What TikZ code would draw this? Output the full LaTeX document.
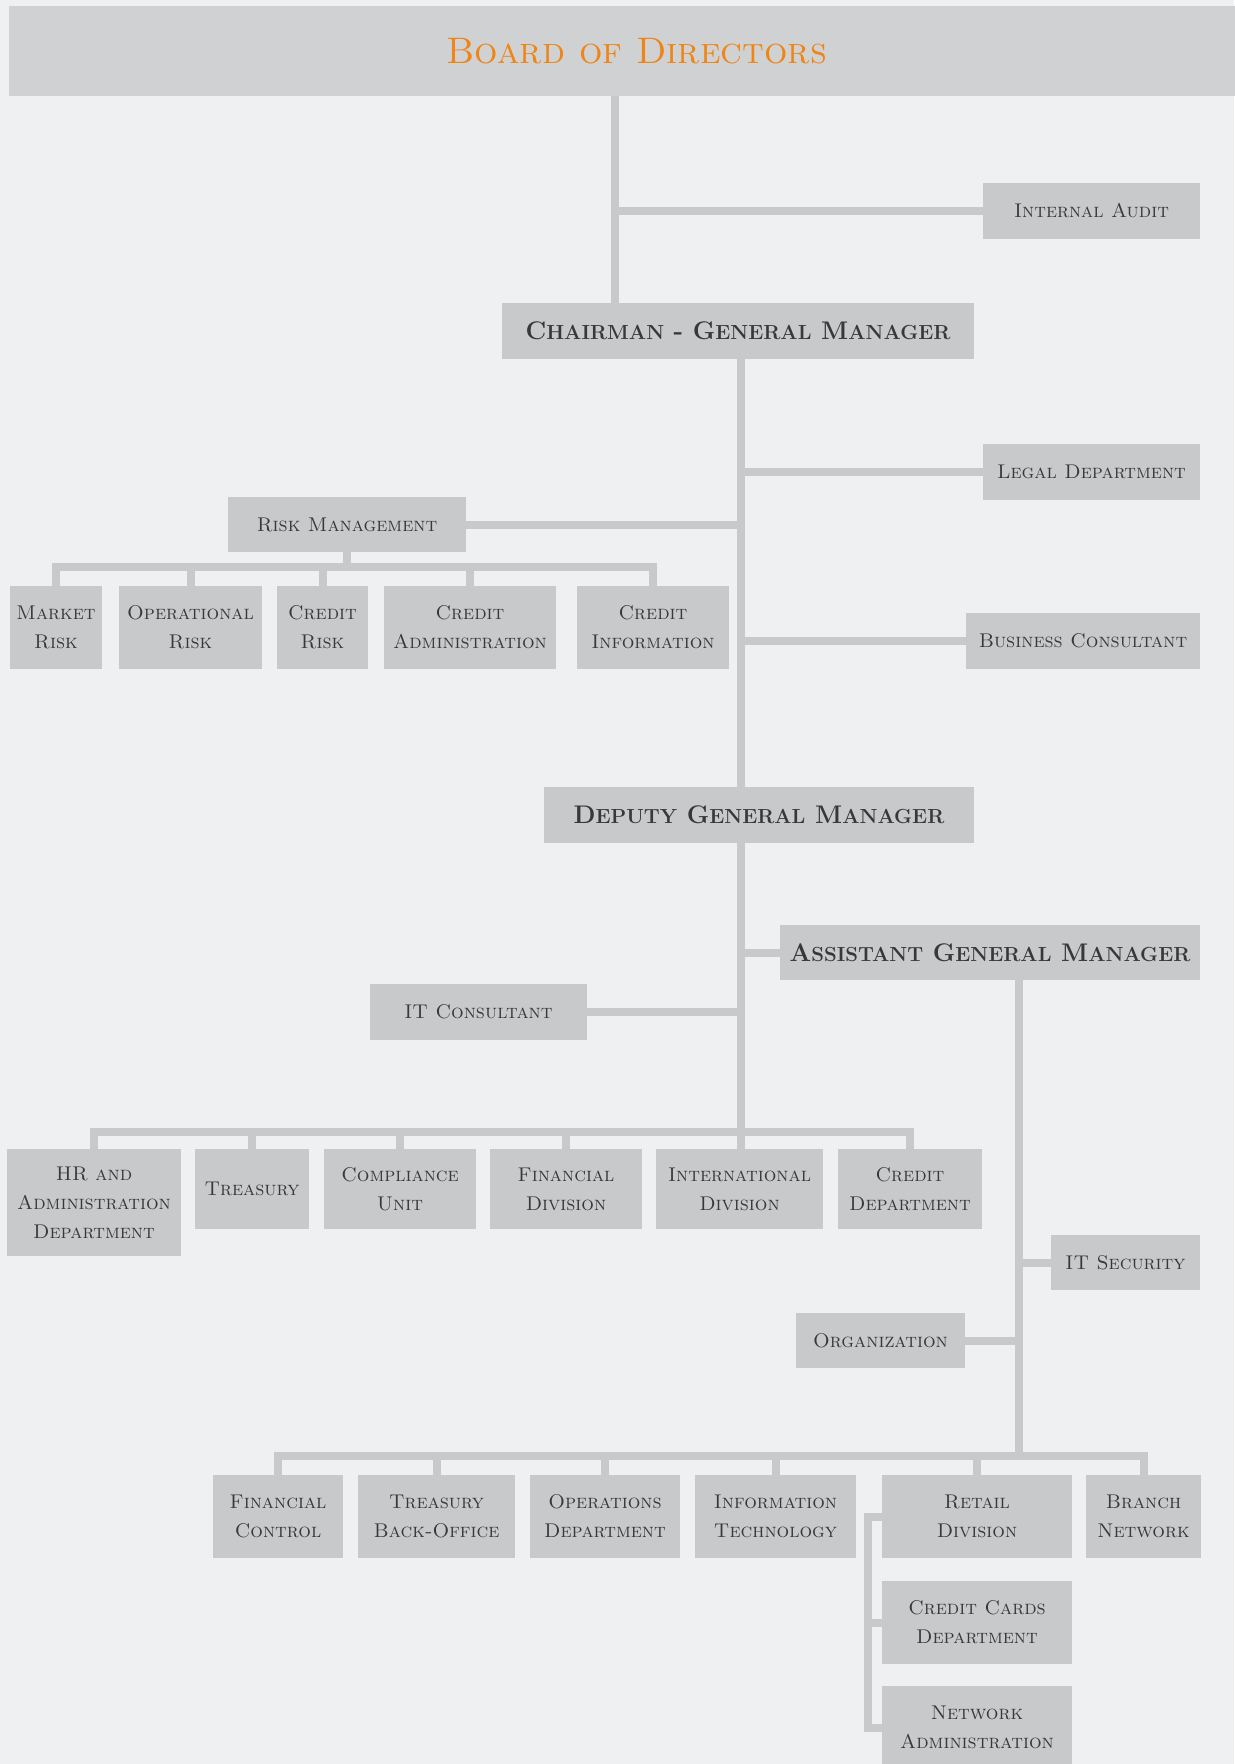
\documentclass[tikz,border=0pt]{standalone}
\usepackage{graphicx}
\usepackage{xcolor}
\usetikzlibrary{positioning}
\definecolor{bggray}{HTML}{EFF0F2}
\definecolor{boxgray}{HTML}{C8C9CB}
\definecolor{topgray}{HTML}{D0D1D3}
\definecolor{txtgray}{HTML}{38383A}
\definecolor{headgray}{HTML}{38383A}
\definecolor{boardorange}{HTML}{EE8516}
\newcommand{\bsc}[2]{#1\scalebox{0.8}{#2}}
\tikzset{dims/.style 2 args={minimum width=#1*0.02cm, minimum height=#2*0.02cm}}
\tikzstyle{dept} = [fill=boxgray, text=txtgray, inner sep=0pt, align=center, font=\fontsize{11.3}{16.5}\selectfont\scshape]
\tikzstyle{head} = [dept, text=headgray, font=\fontsize{14.5}{17}\selectfont\bfseries]
\tikzstyle{link} = [draw=boxgray, line width=0.16cm]

\begin{document}
\begin{tikzpicture}[x=0.02cm, y=-0.02cm]
    \fill[bggray] (0,0) rectangle (1234,1764);
    \useasboundingbox (0,0) rectangle (1234,1764);
    \node[dept, fill=topgray, dims={1255}{90}, text=boardorange, font=\fontsize{21}{25}\selectfont\scshape] (board) at (636.5,51) {Board of Directors};
    \node[dept, dims={217}{56}] (audit) at (1091.5,211) {Internal Audit};
    \node[head, dims={472}{56}] (chair) at (738,331) {\bsc{C}{HAIRMAN} - \bsc{G}{ENERAL} \bsc{M}{ANAGER}};
    \node[dept, dims={217}{56}] (legal) at (1091.5,472) {Legal Department};
    \node[dept, dims={238}{55}] (risk) at (347,524.5) {Risk Management};
    \node[dept, dims={92}{83}] (market) at (56,627.5) {Market\\Risk};
    \node[dept, dims={143}{83}] (oprisk) at (190.5,627.5) {Operational\\Risk};
    \node[dept, dims={91}{83}] (crrisk) at (322.5,627.5) {Credit\\Risk};
    \node[dept, dims={172}{83}] (cradmin) at (470,627.5) {Credit\\Administration};
    \node[dept, dims={152}{83}] (crinfo) at (653,627.5) {Credit\\Information};
    \node[dept, dims={234}{56}] (busc) at (1083,641) {Business Consultant};
    \node[head, dims={430}{56}] (deputy) at (759,815) {\bsc{D}{EPUTY} \bsc{G}{ENERAL} \bsc{M}{ANAGER}};
    \node[head, dims={420}{55}] (agm) at (990,952.5) {\bsc{A}{SSISTANT} \bsc{G}{ENERAL} \bsc{M}{ANAGER}};
    \node[dept, dims={217}{56}] (itcons) at (478.5,1012) {IT Consultant};
    \node[dept, dims={174}{107}] (hr) at (94,1202.5) {HR and\\Administration\\Department};
    \node[dept, dims={114}{80}] (treasury) at (252,1189) {Treasury};
    \node[dept, dims={152}{80}] (compliance) at (400,1189) {Compliance\\Unit};
    \node[dept, dims={152}{80}] (findiv) at (566,1189) {Financial\\Division};
    \node[dept, dims={167}{80}] (intl) at (739.5,1189) {International\\Division};
    \node[dept, dims={144}{80}] (creddept) at (910,1189) {Credit\\Department};
    \node[dept, dims={149}{55}] (itsec) at (1125.5,1262.5) {IT Security};
    \node[dept, dims={169}{55}] (org) at (880.5,1340.5) {Organization};
    \node[dept, dims={130}{83}] (finctrl) at (278,1516.5) {Financial\\Control};
    \node[dept, dims={157}{83}] (tbo) at (436.5,1516.5) {Treasury\\Back-Office};
    \node[dept, dims={150}{83}] (ops) at (605,1516.5) {Operations\\Department};
    \node[dept, dims={161}{83}] (infotech) at (775.5,1516.5) {Information\\Technology};
    \node[dept, dims={190}{83}] (retail) at (977,1516.5) {Retail\\Division};
    \node[dept, dims={115}{83}] (branch) at (1143.5,1516.5) {Branch\\Network};
    \node[dept, dims={190}{83}] (ccards) at (977,1622.5) {Credit Cards\\Department};
    \node[dept, dims={190}{83}] (netadmin) at (977,1727.5) {Network\\Administration};
    \coordinate (s1) at (615,211);
    \coordinate (s2) at (741,472);
    \coordinate (s3) at (1019,1456);
    \coordinate (rk) at (868,1727.5);
    \draw[link] (board.south -| s1) -- (chair.north -| s1);
    \draw[link] (s1) -- (audit.west);
    \draw[link] (chair.south -| s2) -- (deputy.north -| s2);
    \draw[link] (legal.west -| s2) -- (legal.west);
    \draw[link] (risk.east) -- (risk.east -| s2);
    \draw[link] (busc.west -| s2) -- (busc.west);
    \draw[link] (risk.south) -- ++(0,15);
    \draw[link] (market.north) -- ++(0,-19) -| (crinfo.north);
    \foreach \n in {oprisk,crrisk,cradmin}
        \draw[link] (\n.north) -- ++(0,-19);
    \draw[link] (deputy.south -| s2) -- (intl.north -| s2);
    \draw[link] (agm.west -| s2) -- (agm.west);
    \draw[link] (itcons.east) -- (itcons.east -| s2);
    \draw[link] (hr.north) -- ++(0,-17) -| (creddept.north);
    \foreach \n in {treasury,compliance,findiv}
        \draw[link] (\n.north) -- ++(0,-17);
    \draw[link] (agm.south -| s3) -- (s3);
    \draw[link] (itsec.west -| s3) -- (itsec.west);
    \draw[link] (org.east) -- (org.east -| s3);
    \draw[link] (finctrl.north) -- ++(0,-19) -| (branch.north);
    \foreach \n in {tbo,ops,infotech,retail}
        \draw[link] (\n.north) -- ++(0,-19);
    \draw[link] (retail.west) -| (rk) -- (netadmin.west);
    \draw[link] (ccards.west) -- (ccards.west -| rk);
\end{tikzpicture}
\end{document}
